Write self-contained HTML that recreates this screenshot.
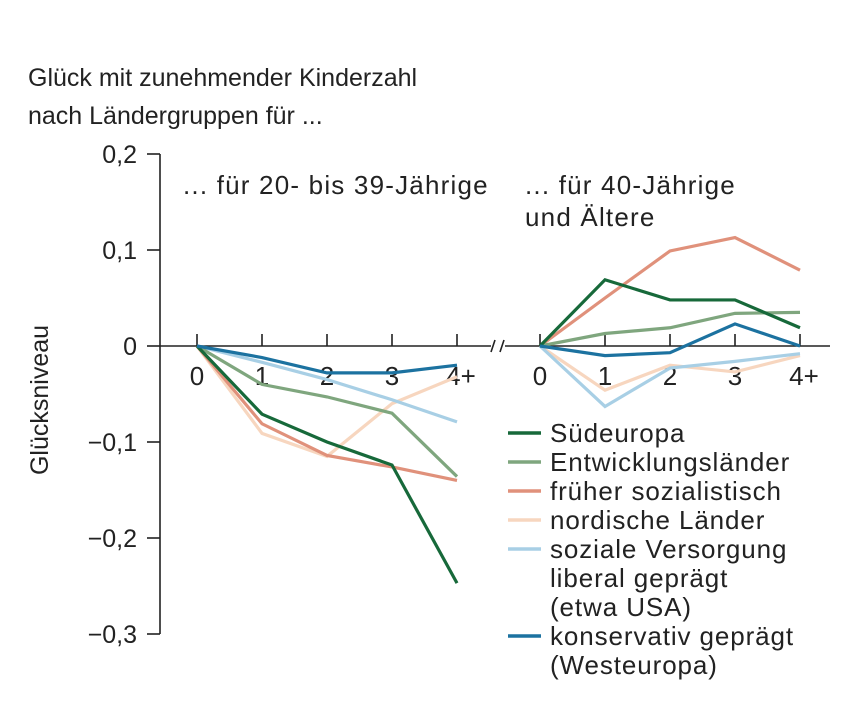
<!DOCTYPE html>
<html><head><meta charset="utf-8"><style>
body{margin:0;background:#fff;}
svg{display:block;font-family:"Liberation Sans","DejaVu Sans",sans-serif;}
</style></head><body>
<svg id="chart" width="862" height="725" viewBox="0 0 862 725">
<text x="28" y="86" font-size="25" fill="#222">Glück mit zunehmender Kinderzahl</text>
<text x="28" y="124" font-size="25" fill="#222">nach Ländergruppen für ...</text>
<text transform="translate(48,400) rotate(-90)" text-anchor="middle" font-size="25" fill="#222">Glücksniveau</text>
<text x="183" y="194" font-size="26" letter-spacing="1.2" fill="#222">... für 20- bis 39-Jährige</text>
<text x="525" y="194" font-size="26" letter-spacing="1.2" fill="#222">... für 40-Jährige</text>
<text x="525" y="226" font-size="26" letter-spacing="1.2" fill="#222">und Ältere</text>
<g id="axes"></g>
<g id="series"></g>
<g id="legend"></g>
</svg>
<script>
const yTicks=[0.2,0.1,0,-0.1,-0.2,-0.3];
const yTickLabels=["0,2","0,1","0","−0,1","−0,2","−0,3"];
const categories=["0","1","2","3","4+"];
const seriesNames=["Südeuropa","Entwicklungsländer","früher sozialistisch","nordische Länder","soziale Versorgung liberal geprägt (etwa USA)","konservativ geprägt (Westeuropa)"];
const young_sued=[0,-0.071,-0.100,-0.124,-0.247];
const young_entw=[0,-0.040,-0.053,-0.070,-0.136];
const young_frueher=[0,-0.081,-0.114,-0.126,-0.140];
const young_nord=[0,-0.091,-0.115,-0.060,-0.032];
const young_lib=[0,-0.017,-0.035,-0.056,-0.079];
const young_kons=[0,-0.012,-0.028,-0.028,-0.020];
const old_sued=[0,0.069,0.048,0.048,0.019];
const old_entw=[0,0.013,0.019,0.034,0.035];
const old_frueher=[0,0.050,0.099,0.113,0.079];
const old_nord=[0,-0.046,-0.020,-0.027,-0.010];
const old_lib=[0,-0.063,-0.023,-0.016,-0.008];
const old_kons=[0,-0.010,-0.007,0.023,0];

const colors=["#17693a","#7fa67e","#e0917b","#f7d6bf","#a8cfe5","#1c72a0"];
const youngSeries=[young_sued,young_entw,young_frueher,young_nord,young_lib,young_kons];
const oldSeries=[old_sued,old_entw,old_frueher,old_nord,old_lib,old_kons];
const drawOrder=[3,4,2,1,0,5];
const NS="http://www.w3.org/2000/svg";
function y(v){return 346-v*960;}
function xL(i){return 197+i*65;}
function xR(i){return 540+i*65;}
function mk(tag,attrs,parent){const e=document.createElementNS(NS,tag);for(const k in attrs)e.setAttribute(k,attrs[k]);parent.appendChild(e);return e;}
const axes=document.getElementById('axes');
const yAxis=mk('line',{x1:160,y1:y(0.2),x2:160,y2:y(-0.3),stroke:'#222','stroke-width':1.6},axes);


yTicks.forEach((t,i)=>{
 const tk=mk('line',{x1:147,x2:160,y1:y(t),y2:y(t),stroke:'#222','stroke-width':1.6},axes);
 
 
 const tl=mk('text',{x:137,y:y(t)+9,'text-anchor':'end','font-size':25,fill:'#222'},axes);
 tl.textContent=yTickLabels[i];
 
 
});
const xa1=mk('line',{x1:160,x2:491,y1:y(0),y2:y(0),stroke:'#222','stroke-width':1.6},axes);


const xa2=mk('line',{x1:505,x2:830,y1:y(0),y2:y(0),stroke:'#222','stroke-width':1.6},axes);


const br=mk('path',{d:'M491,352 L495,340 M500,352 L504,340',stroke:'#222','stroke-width':1.6,fill:'none'},axes);


[xL,xR].forEach((fx,p)=>{
 categories.forEach((c,i)=>{
  const tk=mk('line',{x1:fx(i),x2:fx(i),y1:334,y2:y(0),stroke:'#222','stroke-width':1.6},axes);
  
  
  const tl=mk('text',{x:fx(i)+(i==4?4:0),y:385,'text-anchor':'middle','font-size':26,fill:'#222'},axes);
  tl.textContent=c;
  
  
 });
});
const sg=document.getElementById('series');
drawOrder.forEach(s=>{
 [[youngSeries,xL,'young'],[oldSeries,xR,'old']].forEach(([arr,fx,tag])=>{
  const pts=arr[s].map((v,i)=>fx(i)+','+y(v)).join(' ');
  const pl=mk('polyline',{points:pts,fill:'none',stroke:colors[s],'stroke-width':3.2,'stroke-linejoin':'miter'},sg);
  
  
 });
});
const lg=document.getElementById('legend');
const legendLines=[["Südeuropa"],["Entwicklungsländer"],["früher sozialistisch"],["nordische Länder"],["soziale Versorgung","liberal geprägt","(etwa USA)"],["konservativ geprägt","(Westeuropa)"]];
let row=0;
legendLines.forEach((lines,s)=>{
 const yy=433+row*29;
 const sw=mk('line',{x1:508,x2:541,y1:yy,y2:yy,stroke:colors[s],'stroke-width':3.5},lg);
 
 
 lines.forEach((t,j)=>{
  const tx=mk('text',{x:550,y:433+(row+j)*29+9,'font-size':26,'letter-spacing':'0.9',fill:'#222'},lg);
  tx.textContent=t;
  
  
 });
 row+=lines.length;
});
</script>
</body></html>
